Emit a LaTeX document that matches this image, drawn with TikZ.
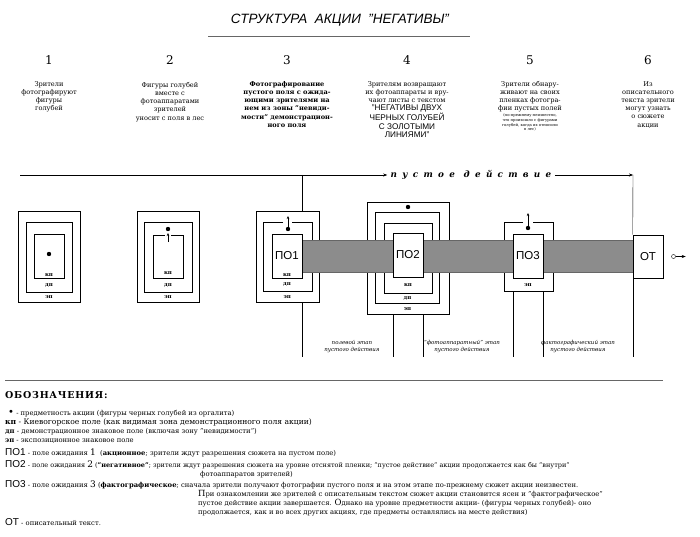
\documentclass[tikz,border=0pt]{standalone}
\usepackage{fontspec}
\setmainfont{DejaVu Serif}
\setsansfont{Liberation Sans}
\newfontfamily\spacedfont[LetterSpace=60]{DejaVu Serif}
\newfontfamily\headfont[LetterSpace=8]{DejaVu Serif}
\usetikzlibrary{arrows.meta, positioning, calc}
\newcommand{\polabel}[1]{{\sffamily\fontsize{10}{10}\selectfont #1}}

\begin{document}
\begin{tikzpicture}[
    x=1pt, y=-1pt,
    frame/.style={draw, line width=0.6pt, inner sep=0pt},
    pobox/.style={frame, fill=white, minimum width=30pt, minimum height=44pt, font=\sffamily\fontsize{11.5}{11.5}\selectfont},
    zone/.style={inner sep=0pt, font=\fontsize{5.5}{5.5}\selectfont\bfseries},
    num/.style={font=\fontsize{12}{12}\selectfont},
    coltext/.style={anchor=north, align=center, inner sep=0pt, font=\fontsize{6.6}{8.2}\selectfont},
    stage/.style={align=center, inner sep=0pt, font=\fontsize{5.5}{7}\selectfont\itshape},
    legend/.style={anchor=base west, inner sep=0pt, font=\fontsize{6.8}{8}\selectfont},
    band/.style={fill=black!45, draw=black!60},
    arrow/.style={-{Stealth[length=4pt, width=3pt]}},
    dot/.style={fill=black}
  ]
  \useasboundingbox (0,0) rectangle (700,537);

  % Title
  \node[font=\sffamily\itshape\fontsize{13.5}{13.5}\selectfont] (title) at (340,20) {СТРУКТУРА\ \ АКЦИИ\ \ "НЕГАТИВЫ"};
  \draw[black!60] (208,36) -- (470,36);

  % Column numbers and texts
  \node[num] (n1) at (49,60) {1};
  \node[num] (n2) at (170,60) {2};
  \node[num] (n3) at (287,60) {3};
  \node[num] (n4) at (407,60) {4};
  \node[num] (n5) at (530,60) {5};
  \node[num] (n6) at (648,60) {6};

  \node[coltext] (t1) at (49,81) {Зрители\\фотографируют\\фигуры\\голубей};
  \node[coltext] (t2) at (170,82) {Фигуры голубей\\вместе с\\фотоаппаратами\\зрителей\\уносит с поля в лес};
  \node[coltext, font=\fontsize{6.6}{8.2}\selectfont\bfseries] (t3) at (287,81) {Фотографирование\\пустого поля с ожида-\\ющими зрителями на\\нем из зоны "невиди-\\мости" демонстрацион-\\ного поля};
  \node[coltext] (t4) at (407,81) {Зрителям возвращают\\их фотоаппараты и вру-\\чают листы с текстом};
  \node[coltext, below=2pt of t4, font=\sffamily\fontsize{8.2}{8.4}\selectfont] (t4b) {"НЕГАТИВЫ ДВУХ\\ЧЕРНЫХ ГОЛУБЕЙ\\С ЗОЛОТЫМИ\\ЛИНИЯМИ"};
  \node[coltext] (t5) at (530,81) {Зрители обнару-\\живают на своих\\пленках фотогра-\\фии пустых полей};
  \node[coltext, below=1pt of t5, font=\fontsize{3.8}{4.7}\selectfont] (t5b) {(по-прежнему неизвестно,\\что произошло с фигурами\\голубей, когда их относили\\в лес)};
  \node[coltext] (t6) at (648,81) {Из\\описательного\\текста зрители\\могут узнать\\о сюжете\\акции};

  % Line of the empty action
  \coordinate (top) at (20,175);
  \coordinate (corner) at (633,175);
  \coordinate (base) at (0,357);
  \node[font=\spacedfont\fontsize{8.8}{8.8}\selectfont\bfseries\itshape] (empty) at (471,175) {пустое\quad действие};
  \draw[arrow] (top) -- (empty.west);
  \draw[arrow] (empty.east) -- (corner);

  % Box 1
  \node[frame, minimum width=62pt, minimum height=91pt] (ep1) at (49,256.5) {};
  \node[frame, minimum width=46pt, minimum height=70pt] (dp1) at (49,257) {};
  \node[frame, minimum width=30pt, minimum height=44pt] (kp1) at (49,256) {};
  \fill[dot] (kp1.center) ++(0,-2) circle (2.2);
  \node[zone, above=2pt of kp1.south] {кп};
  \node[zone] at ($(kp1.south)!0.5!(dp1.south)$) {дп};
  \node[zone] at ($(dp1.south)!0.5!(ep1.south)$) {эп};

  % Box 2
  \node[frame, minimum width=62pt, minimum height=91pt] (ep2) at (168,256.5) {};
  \node[frame, minimum width=48pt, minimum height=70pt] (dp2) at (168,257) {};
  \draw[line width=0.6pt] (165,235) -| (153,278) coordinate (kp2) -| (183,235) -- (171,235);
  \fill[dot] (168,229) circle (2.2);
  \draw[-{Stealth[length=3pt, width=2.5pt]}] (168,242) -- (168,233);
  \node[zone] at (168,273) {кп};
  \node[zone] at ($(168,278)!0.5!(dp2.south)$) {дп};
  \node[zone] at ($(dp2.south)!0.5!(ep2.south)$) {эп};

  % Box 3
  \node[frame, minimum width=63pt, minimum height=91pt] (ep3) at (287.5,256.5) {};
  \draw[line width=0.6pt] (283,222) -| (263,291) coordinate (dp3) -| (312,222) -- (292,222);

  % Box 4
  \node[frame, minimum width=82pt, minimum height=112pt] (ep4) at (408,258) {};
  \node[frame, minimum width=64pt, minimum height=91pt] (dp4) at (407,257.5) {};
  \node[frame, minimum width=48pt, minimum height=70pt] (kp4) at (408,258) {};
  \fill[dot] (408,207) circle (2.2);

  % Box 5
  \draw[line width=0.6pt] (523,222) -| (504,291) coordinate (ep5) -| (553,222) -- (533,222);

  % Band of the empty action
  \coordinate (bandtl) at (302,240);
  \coordinate (bandbr) at (633,272);
  \path[band] (bandtl) rectangle (bandbr);

  % Waiting fields
  \node[pobox] (po1) at (287,256) {ПО1};
  \node[pobox] (po2) at (408,255) {ПО2};
  \node[pobox] (po3) at (528,256) {ПО3};
  \node[pobox, minimum height=43pt] (ot) at (648,256.5) {ОТ};

  \fill[dot] (288,229) circle (2.2);
  \draw[-{Stealth[length=3pt, width=2.5pt]}] (288,229) -- (288,216);
  \node[zone, above=2pt of po1.south] {кп};
  \node[zone] at ($(po1.south)!0.5!(po1.south |- dp3)$) {дп};
  \node[zone] at ($(po1.south |- dp3)!0.5!(ep3.south)$) {эп};

  \node[zone] at ($(po2.south)!0.5!(kp4.south)$) {кп};
  \node[zone] at ($(kp4.south)!0.5!(dp4.south)$) {дп};
  \node[zone] at ($(dp4.south)!0.5!(ep4.south)$) {эп};

  \fill[dot] (528,228) circle (2.2);
  \draw[-{Stealth[length=3pt, width=2.5pt]}] (528,228) -- (528,213);
  \node[zone] at ($(po3.south)!0.5!(po3.south |- ep5)$) {эп};

  % Stage lines
  \draw (po1.east |- top) -- (po1.east |- ep3.north);
  \draw (po1.east |- ep3.south) -- (po1.east |- base);
  \draw (po2.south west |- ep4.south) -- (po2.south west |- base);
  \draw (po2.south east |- ep4.south) -- (po2.south east |- base);
  \draw (po3.south west |- ep5) -- (po3.south west |- base);
  \draw (po3.south east |- ep5) -- (po3.south east |- base);
  \draw (corner) -- (ot.north west);
  \draw (ot.south west) -- (ot.south west |- base);

  \node[circle, draw, inner sep=0pt, minimum size=4pt, right=8pt of ot] (out) {};
  \draw[arrow] (out.east) -- ++(10,0);

  \node[stage] at (352,347) {полевой этап\\пустого действия};
  \node[stage] at (462,347) {"фотоаппаратный" этап\\пустого действия};
  \node[stage] at (578,347) {фактографический этап\\пустого действия};

  % Legend
  \draw[black!60] (5,380) -- (663,380);
  \node[legend, font=\headfont\fontsize{9.5}{9.5}\selectfont\bfseries] at (5,398) {ОБОЗНАЧЕНИЯ:};
  \node[legend] at (8,415) {{\fontsize{10}{10}\selectfont •} - предметность акции (фигуры черных голубей из оргалита)};
  \node[legend, font=\fontsize{7.6}{8}\selectfont] at (5,424) {{\bfseries кп} - Киевогорское поле (как видимая зона демонстрационного поля акции)};
  \node[legend] at (5,433) {{\bfseries дп} - демонстрационное знаковое поле (включая зону "невидимости")};
  \node[legend] at (5,442) {{\bfseries эп} - экспозиционное знаковое поле};
  \node[legend] at (5,455) {\polabel{ПО1} - поле ожидания {\fontsize{9}{9}\selectfont 1} \ ({\bfseries акционное}; зрители ждут разрешения сюжета на пустом поле)};
  \node[legend, font=\fontsize{6.5}{8}\selectfont] at (5,467) {\polabel{ПО2} - поле ожидания {\fontsize{9}{9}\selectfont 2} ({\bfseries "негативное"}; зрители ждут разрешения сюжета на уровне отснятой пленки; "пустое действие" акции продолжается как бы "внутри"};
  \node[legend] at (200,476) {фотоаппаратов зрителей)};
  \node[legend] at (5,487) {\polabel{ПО3} - поле ожидания {\fontsize{9}{9}\selectfont 3} ({\bfseries фактографическое}; сначала зрители получают фотографии пустого поля и на этом этапе по-прежнему сюжет акции неизвестен.};
  \node[legend] at (198,496) {{\fontsize{8.5}{8.5}\selectfont П}ри ознакомлении же зрителей с описательным текстом сюжет акции становится ясен и "фактографическое"};
  \node[legend] at (198,505) {пустое действие акции завершается. {\fontsize{8.5}{8.5}\selectfont О}днако на уровне предметности акции- (фигуры черных голубей)- оно};
  \node[legend] at (198,514) {продолжается, как и во всех других акциях, где предметы оставлялись на месте действия)};
  \node[legend] at (5,525) {\polabel{ОТ} - описательный текст.};
\end{tikzpicture}
\end{document}
